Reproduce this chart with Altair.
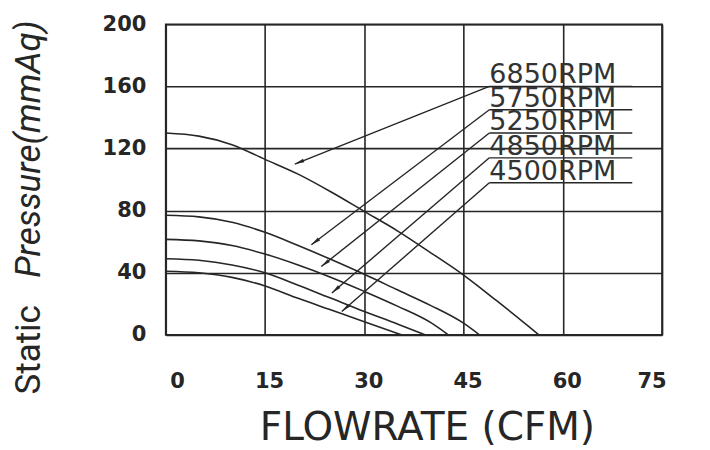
import math
import altair as alt
import pandas as pd

# ---- curve data (flowrate CFM, static pressure mmAq) ----
rpm_labels = ["6850RPM", "5750RPM", "5250RPM", "4850RPM", "4500RPM"]
flow_6850 = [0, 5, 10, 15, 20, 25, 30, 35, 40, 45, 50, 56.4]
pres_6850 = [130, 128, 122.5, 113, 103.5, 92, 79.5, 67, 53, 38.5, 22, 0]
flow_5750 = [0, 5, 10, 15, 20, 25, 30, 35, 40, 45, 47.4]
pres_5750 = [77, 76, 72.5, 66, 57.5, 48.5, 39, 29, 19, 7.5, 0]
flow_5250 = [0, 5, 10, 15, 20, 25, 30, 35, 40, 42.7]
pres_5250 = [61.5, 60.5, 57.5, 52, 45, 37, 28, 18.5, 8, 0]
flow_4850 = [0, 5, 10, 15, 20, 25, 30, 35, 39.2]
pres_4850 = [49, 48, 45, 40, 32, 23.5, 15, 7, 0]
flow_4500 = [0, 5, 10, 15, 20, 25, 30, 35.6]
pres_4500 = [41, 40, 37, 31.5, 23.5, 16, 8.5, 0]

# ---- annotation (label leaders) in data units ----
label_x = [48.9, 48.9, 48.9, 48.9, 48.9]
label_end_x = [70.5, 70.5, 70.5, 70.5, 70.5]
label_y = [160, 145, 130, 114, 98]
arrow_x = [19.5, 22.0, 23.5, 25.1, 26.6]
arrow_y = [110, 58, 44, 27, 15]

x_ticks = [0, 15, 30, 45, 60, 75]
y_ticks = [0, 40, 80, 120, 160, 200]

W, H = 497, 311
INK = "#262626"

flows = [flow_6850, flow_5750, flow_5250, flow_4850, flow_4500]
press = [pres_6850, pres_5750, pres_5250, pres_4850, pres_4500]
rows = []
for lab, fx, py in zip(rpm_labels, flows, press):
    for i, (a, b) in enumerate(zip(fx, py)):
        rows.append({"rpm": lab, "flow": a, "pressure": b, "i": i})
curves = pd.DataFrame(rows)

sx = W / 75.0
sy = H / 200.0
ann_rows = []
for lab, x0, x1, y0, ax, ay in zip(rpm_labels, label_x, label_end_x, label_y, arrow_x, arrow_y):
    dx = (ax - x0) * sx
    dy = -(ay - y0) * sy
    ang = math.degrees(math.atan2(dx, -dy)) % 360
    ann_rows.append({"rpm": lab, "x0": x0, "x1": x1, "y0": y0, "ax": ax, "ay": ay, "ang": ang})
ann = pd.DataFrame(ann_rows)

xs = alt.Scale(domain=[0, 75], nice=False, zero=False)
ys = alt.Scale(domain=[0, 200], nice=False, zero=False)

xaxis = alt.Axis(values=x_ticks, grid=True, ticks=False, domain=False, title=None,
                 labelPadding=36, labelFont="DejaVu Sans", labelFontWeight="bold",
                 labelFontSize=21, labelColor=INK, labelOffset=4,
                 gridColor=INK, gridWidth=1.6, gridOpacity=1)
yaxis = alt.Axis(values=y_ticks, grid=True, ticks=False, domain=False, title=None,
                 labelPadding=20, labelFont="DejaVu Sans", labelFontWeight="bold",
                 labelFontSize=21, labelColor=INK, labelBaseline="middle",
                 gridColor=INK, gridWidth=1.6, gridOpacity=1)

lines = alt.Chart(curves).mark_line(interpolate="monotone", color=INK, strokeWidth=1.6).encode(
    x=alt.X("flow:Q", scale=xs, axis=xaxis),
    y=alt.Y("pressure:Q", scale=ys, axis=yaxis),
    detail="rpm:N",
    order="i:Q",
)

underline = alt.Chart(ann).mark_rule(color=INK, strokeWidth=1.4).encode(
    x=alt.X("x0:Q", scale=xs), x2="x1:Q",
    y=alt.Y("y0:Q", scale=ys), y2="y0:Q",
)
leader = alt.Chart(ann).mark_rule(color=INK, strokeWidth=1.4).encode(
    x=alt.X("x0:Q", scale=xs), x2="ax:Q",
    y=alt.Y("y0:Q", scale=ys), y2="ay:Q",
)
arrows = alt.Chart(ann).mark_point(
    shape="M0,0L0.45,2.4L-0.45,2.4Z", filled=True, color=INK, opacity=1, size=64
).encode(
    x=alt.X("ax:Q", scale=xs), y=alt.Y("ay:Q", scale=ys), angle=alt.Angle("ang:Q", scale=None)
)
labels = alt.Chart(ann).mark_text(
    align="left", baseline="alphabetic", dy=-3, font="DejaVu Sans", fontSize=27, color="#333333"
).encode(
    x=alt.X("x0:Q", scale=xs), y=alt.Y("y0:Q", scale=ys), text="rpm:N"
)

ytitle_a = alt.Chart(pd.DataFrame({"t": ["Static"]})).mark_text(
    angle=270, align="center", baseline="middle", font="Roboto", fontSize=35, color=INK
).encode(x=alt.value(-137), y=alt.value(326), text="t:N")
ytitle_b = alt.Chart(pd.DataFrame({"t": ["Pressure(mmAq)"]})).mark_text(
    angle=270, align="center", baseline="middle", font="Roboto", fontSize=35,
    fontStyle="italic", color=INK
).encode(x=alt.value(-137), y=alt.value(125), text="t:N")
xtitle = alt.Chart(pd.DataFrame({"t": ["FLOWRATE (CFM)"]})).mark_text(
    align="center", baseline="alphabetic", font="DejaVu Sans", fontSize=39, color=INK
).encode(x=alt.value(262), y=alt.value(416), text="t:N")

chart = alt.layer(lines, leader, underline, arrows, labels, ytitle_a, ytitle_b, xtitle).properties(
    width=W, height=H,
    padding={"left": 158, "top": 16, "right": 40, "bottom": 115},
    autosize=alt.AutoSizeParams(type="none"),
    background="white",
).configure_view(stroke=INK, strokeWidth=1.8)

chart.save("out.html", embed_options={"renderer": "svg", "actions": False})
